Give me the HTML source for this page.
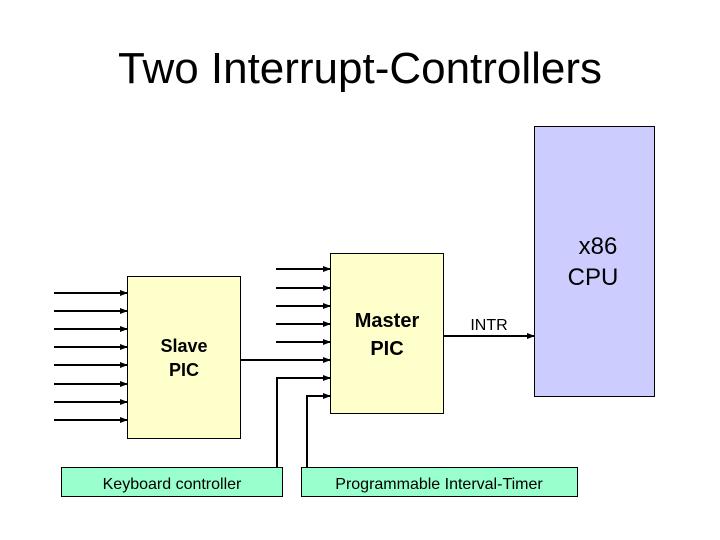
<!DOCTYPE html>
<html><head><style>body{margin:0;background:#fff}svg{display:block}</style></head>
<body>
<svg width="720" height="540" viewBox="0 0 720 540" xmlns="http://www.w3.org/2000/svg" font-family="Liberation Sans, sans-serif">
<defs><marker id="a" markerWidth="8" markerHeight="6" refX="7" refY="3" orient="auto" markerUnits="userSpaceOnUse"><path d="M0,0 L8,3 L0,6 z" fill="#000"/></marker></defs>
<text x="360" y="83" font-size="44" text-anchor="middle" textLength="484" lengthAdjust="spacingAndGlyphs">Two Interrupt-Controllers</text>
<rect x="534.5" y="126.5" width="120" height="270" fill="#ccccff" stroke="#000"/>
<text x="598" y="254" font-size="24" text-anchor="middle">x86</text>
<text x="593" y="285" font-size="24" text-anchor="middle">CPU</text>
<rect x="127.5" y="276.5" width="113" height="162" fill="#ffffcc" stroke="#000"/>
<text x="184" y="352" font-size="18" font-weight="bold" text-anchor="middle">Slave</text>
<text x="184" y="376" font-size="18" font-weight="bold" text-anchor="middle">PIC</text>
<rect x="330.5" y="253.5" width="113" height="160" fill="#ffffcc" stroke="#000"/>
<text x="387" y="327" font-size="20" font-weight="bold" text-anchor="middle">Master</text>
<text x="387" y="355" font-size="20" font-weight="bold" text-anchor="middle">PIC</text>
<g stroke="#000" stroke-width="2" marker-end="url(#a)">
<line x1="54" y1="293" x2="127" y2="293"/><line x1="54" y1="311" x2="127" y2="311"/>
<line x1="54" y1="329" x2="127" y2="329"/><line x1="54" y1="347" x2="127" y2="347"/>
<line x1="54" y1="365" x2="127" y2="365"/><line x1="54" y1="384" x2="127" y2="384"/>
<line x1="54" y1="402" x2="127" y2="402"/><line x1="54" y1="420" x2="127" y2="420"/>
<line x1="276" y1="269" x2="330" y2="269"/><line x1="276" y1="288" x2="330" y2="288"/>
<line x1="276" y1="306" x2="330" y2="306"/><line x1="276" y1="324" x2="330" y2="324"/>
<line x1="276" y1="342" x2="330" y2="342"/><line x1="241" y1="360" x2="330" y2="360"/>
<polyline fill="none" points="277,468 277,378 330,378"/>
<polyline fill="none" points="307,468 307,396 330,396"/>
<line x1="444" y1="336" x2="534" y2="336"/>
</g>
<text x="489" y="330" font-size="16" text-anchor="middle">INTR</text>
<rect x="61.5" y="467.5" width="221" height="29" fill="#99ffcc" stroke="#000"/>
<text x="172" y="489" font-size="16" text-anchor="middle">Keyboard controller</text>
<rect x="301.5" y="467.5" width="276" height="29" fill="#99ffcc" stroke="#000"/>
<text x="439" y="489" font-size="16" text-anchor="middle">Programmable Interval-Timer</text>
</svg>
</body></html>
